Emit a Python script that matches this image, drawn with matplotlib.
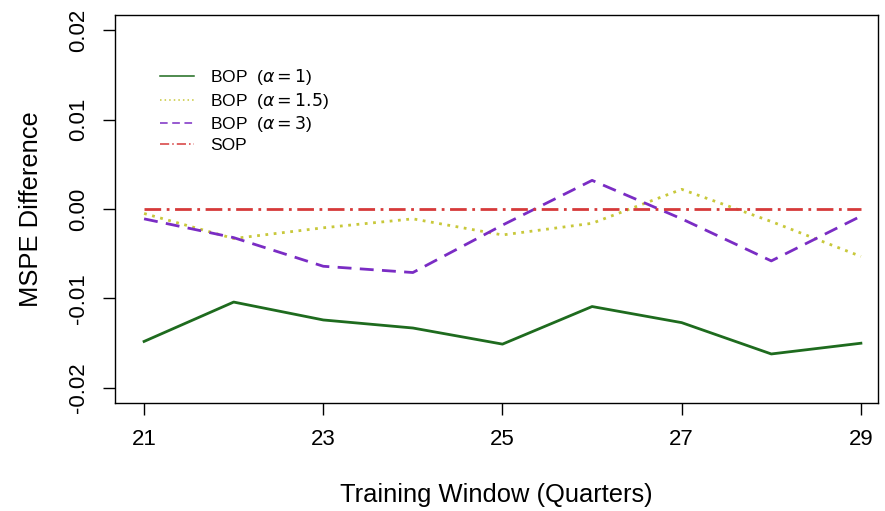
import matplotlib
matplotlib.use("Agg")
import matplotlib.pyplot as plt
from matplotlib.lines import Line2D

plt.rcParams['font.family'] = ['Liberation Sans', 'DejaVu Sans']

# === data ===
windows = [21, 22, 23, 24, 25, 26, 27, 28, 29]
bop_a1 = [-0.0148, -0.0104, -0.0124, -0.0133, -0.0151, -0.0109, -0.0127, -0.0162, -0.0150]
bop_a15 = [-0.0005, -0.0033, -0.0021, -0.0011, -0.0029, -0.0016, 0.0022, -0.0014, -0.0053]
bop_a3 = [-0.0011, -0.0032, -0.0064, -0.0071, -0.0018, 0.0032, -0.0011, -0.0058, -0.0008]
sop = [0.0, 0.0, 0.0, 0.0, 0.0, 0.0, 0.0, 0.0, 0.0]

labels = [r'BOP  ($\alpha = 1$)', r'BOP  ($\alpha = 1.5$)', r'BOP  ($\alpha = 3$)', 'SOP']
colors = ['#1e6b1e', '#c8c83a', '#7a2cc4', '#d63a3a']
styles = ['-', (0, (1, 2)), (0, (5, 3)), (0, (6, 2, 1, 2))]
x_ticks = [21, 23, 25, 27, 29]
y_ticks = [-0.02, -0.01, 0.0, 0.01, 0.02]

fig = plt.figure(figsize=(8.85, 5.11), dpi=100)
ax = fig.add_axes([0.130, 0.211, 0.862, 0.760])

series = [bop_a1, bop_a15, bop_a3, sop]
for vals, c, ls in zip(series, colors, styles):
    ax.plot(windows, vals, color=c, linestyle=ls, linewidth=2.0)

ax.set_xlim(20.676, 29.19)
ax.set_ylim(-0.0217, 0.0217)
ax.set_xticks(x_ticks)
ax.set_yticks(y_ticks)
ax.set_yticklabels([f"{v:.2f}" for v in y_ticks], rotation=90, va='center')
ax.tick_params(direction='out', length=8.5, width=1, labelsize=16, pad=10)
for s in ax.spines.values():
    s.set_linewidth(1)

ax.set_xlabel('Training Window (Quarters)', fontsize=18.4, labelpad=24)
ax.set_ylabel('MSPE Difference', fontsize=18.4, labelpad=18)

handles = [Line2D([0], [0], color=c, linestyle=ls, linewidth=1.1) for c, ls in zip(colors, styles)]
ax.legend(handles, labels, loc='upper left', bbox_to_anchor=(0.038, 0.905), frameon=False,
          fontsize=12.5, handlelength=2.0, labelspacing=0.2, handletextpad=0.9)

fig.savefig('out.png', dpi=100)
